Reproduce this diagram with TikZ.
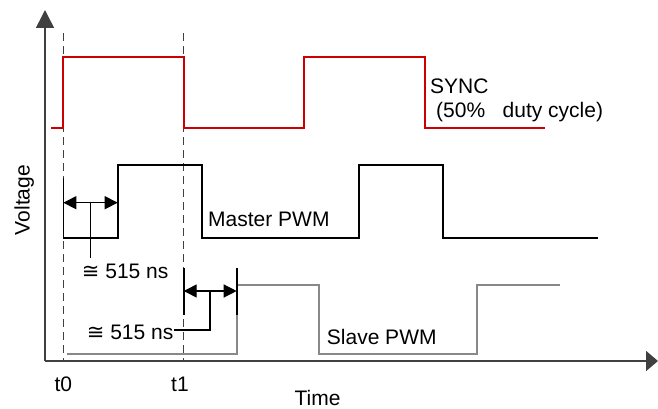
\documentclass[tikz,border=0pt]{standalone}
\usepackage{fontspec}
\setmainfont{Liberation Sans}
\newfontfamily\symfont{DejaVu Sans}
\usetikzlibrary{arrows.meta}
\definecolor{syncred}{HTML}{CC0000}
\definecolor{slavegray}{HTML}{888888}
\definecolor{axisgray}{HTML}{404040}
\begin{document}
\begin{tikzpicture}[x=1pt,y=-1pt,
  lbl/.style={inner sep=0pt,font=\fontsize{21}{25}\selectfont},
  axisline/.style={draw=axisgray,line width=1.6pt},
  guide/.style={draw=axisgray,line width=1.1pt,dash pattern=on 8pt off 5pt},
  syncline/.style={draw=syncred,line width=2pt},
  masterline/.style={draw=black,line width=2pt},
  slaveline/.style={draw=slavegray,line width=2pt},
  tick/.style={draw=black,line width=1.6pt},
  dim/.style={draw=black,line width=1.3pt,{Triangle[length=13pt,width=13pt]}-{Triangle[length=13pt,width=13pt]}},
  leader/.style={draw=black,line width=1.3pt}]
\useasboundingbox (0,0) rectangle (658,409);
% axes
\coordinate (O) at (45,361);
\coordinate (ytip) at (45,10);
\coordinate (xtip) at (658,361);
\draw[axisline,-{Triangle[length=18pt,width=18pt]}] (O) -- (ytip);
\draw[axisline,-{Triangle[length=12pt,width=20pt]}] (O) -- (xtip);
% guides
\coordinate (g0a) at (63.3,33); \coordinate (g0b) at (63.3,361);
\coordinate (g1a) at (183.7,33); \coordinate (g1b) at (183.7,361);
\draw[guide] (g0a) -- (g0b);
\draw[guide] (g1a) -- (g1b);
% SYNC
\draw[syncline] (51,128) -- (63.3,128) -- (63.3,57.3) -- (183.7,57.3) -- (183.7,128) -- (304,128) -- (304,57.3) -- (424.5,57.3) -- (424.5,128) -- (545,128);
% Master PWM
\draw[masterline] (63.3,238.3) -- (117.7,238.3) -- (117.7,164.5) -- (201.5,164.5) -- (201.5,238.3) -- (358.5,238.3) -- (358.5,164.5) -- (442.5,164.5) -- (442.5,238.3) -- (598,238.3);
% Slave PWM
\draw[slaveline] (66.7,354.3) -- (236.7,354.3) -- (236.7,285) -- (319,285) -- (319,354.3) -- (476.5,354.3) -- (476.5,285) -- (560,285);
% master delay dimension
\coordinate (mta) at (63.3,178); \coordinate (mtb) at (63.3,238.3);
\draw[tick] (mta) -- (mtb);
\coordinate (ma) at (63.3,202.7); \coordinate (mb) at (117.7,202.7);
\draw[dim] (ma) -- (mb);
\coordinate (ml1) at (90.7,202.7); \coordinate (ml2) at (90.7,258.3);
\draw[leader] (ml1) -- (ml2);
\node[lbl,anchor=base west] (mlabel) at (81.7,278.3) {{\symfont ≅} 515 ns};
% slave delay dimension
\coordinate (sta) at (183.7,268.3); \coordinate (stb) at (183.7,315);
\coordinate (stc) at (236.7,268.3); \coordinate (std) at (236.7,315);
\draw[tick] (sta) -- (stb);
\draw[tick] (stc) -- (std);
\coordinate (sa) at (183.7,291); \coordinate (sb) at (236.7,291);
\draw[dim] (sa) -- (sb);
\node[lbl,anchor=base east] (slabel) at (173.5,339) {{\symfont ≅} 515 ns};
\coordinate (sl1) at (210,291);
\draw[leader] (sl1) |- (slabel.east |- 0,330);
% labels
\node[lbl,anchor=base west] (sync) at (430,93.3) {SYNC};
\node[lbl,anchor=base west] (duty) at (436,117.3) {(50\%\ \ \ duty cycle)};
\node[lbl,anchor=base west] (master) at (208,226.7) {Master PWM};
\node[lbl,anchor=base west] (slave) at (326.7,344) {Slave PWM};
\node[lbl,anchor=base] (time) at (317.5,405) {Time};
\node[lbl,anchor=base] (t0) at (63.3,391.7) {t0};
\node[lbl,anchor=base] (t1) at (180,391.7) {t1};
\node[lbl,anchor=base,rotate=90] (volt) at (29.5,200) {Voltage};
\end{tikzpicture}
\end{document}
